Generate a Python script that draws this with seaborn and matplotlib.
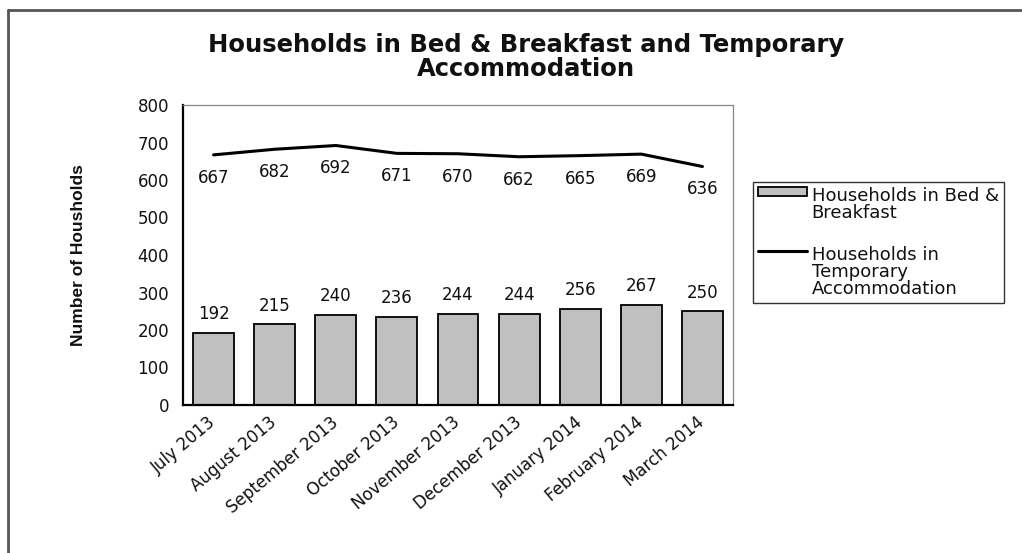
import numpy as np
import pandas as pd
import matplotlib
matplotlib.use("Agg")
import matplotlib.pyplot as plt
from matplotlib.lines import Line2D
from matplotlib.patches import Patch
import seaborn as sns

months = ["July 2013", "August 2013", "September 2013", "October 2013",
          "November 2013", "December 2013", "January 2014", "February 2014",
          "March 2014"]
bed_breakfast = [192, 215, 240, 236, 244, 244, 256, 267, 250]
temporary = [667, 682, 692, 671, 670, 662, 665, 669, 636]
yticks = [0, 100, 200, 300, 400, 500, 600, 700, 800]

sns.set_style("white")
plt.rcParams['font.family'] = ['DejaVu Sans']
plt.rcParams['text.color'] = '#111111'

df = pd.DataFrame({"month": months, "bb": bed_breakfast, "ta": temporary,
                   "pos": np.arange(len(months))})

fig = plt.figure(figsize=(10.22, 5.53), dpi=100)
ax = fig.add_axes([183 / 1022, 148 / 553, 550 / 1022, 300 / 553])

sns.barplot(data=df, x="month", y="bb", color="#c0c0c0", edgecolor="black",
            linewidth=1.3, width=0.67, saturation=1, ax=ax)
sns.lineplot(data=df, x="pos", y="ta", color="black", linewidth=2.2, ax=ax)

# data labels
for i, v in enumerate(bed_breakfast):
    ax.annotate(str(v), (i, v), xytext=(0, 7), textcoords="offset points",
                ha="center", va="bottom", fontsize=12, color="#111111")
for i, v in enumerate(temporary):
    ax.annotate(str(v), (i, v), xytext=(0, -10), textcoords="offset points",
                ha="center", va="top", fontsize=12, color="#111111")

ax.set_xlim(-0.5, len(months) - 0.5)
ax.set_ylim(0, 800)
ax.set_yticks(yticks)
ax.set_yticklabels([str(t) for t in yticks], fontsize=12, color="#111111")

ax.set_xticks(np.arange(len(months)))
ax.set_xticklabels(months, rotation=40, ha="right", va="center",
                   rotation_mode="anchor", fontsize=12, color="#111111")
ax.tick_params(axis="x", length=0, pad=11)
# boundary ticks between categories
ax.set_xticks(np.arange(-0.5, len(months) + 0.5, 1), minor=True)
ax.tick_params(axis="x", which="minor", direction="inout", length=10,
               width=1.3, color="black")
ax.tick_params(axis="y", direction="inout", length=10, width=1.3,
               color="black", pad=5)

ax.set_xlabel("")
ax.set_ylabel("Number of Housholds", fontsize=12.5, fontweight="bold",
              family=['Liberation Sans Narrow', 'Liberation Sans'],
              labelpad=37, color="#111111")

for side in ["left", "bottom"]:
    ax.spines[side].set_color("black")
    ax.spines[side].set_linewidth(1.6)
for side in ["top", "right"]:
    ax.spines[side].set_color("#888888")
    ax.spines[side].set_linewidth(0.9)

fig.text(526 / 1022, 1 - 57 / 553,
         "Households in Bed & Breakfast and Temporary\nAccommodation",
         ha="center", va="center", fontsize=17.5, fontweight="bold",
         linespacing=0.95, color="#111111")

handles = [Patch(facecolor="#c0c0c0", edgecolor="black", linewidth=1.3),
           Line2D([0], [0], color="black", linewidth=2.2)]
labels = ["Households in Bed &\nBreakfast",
          "Households in\nTemporary\nAccommodation"]
leg = fig.legend(handles, labels, loc="upper left",
                 bbox_to_anchor=(753 / 1022, 1 - 182 / 553), fontsize=13,
                 frameon=True, fancybox=False, handlelength=2.7,
                 handleheight=0.35, handletextpad=0.25, labelspacing=1.3,
                 borderpad=0.3, borderaxespad=0)
leg.get_frame().set_edgecolor("black")
leg.get_frame().set_linewidth(1.0)
for t in leg.get_texts():
    t.set_linespacing(0.92)
    t.set_color("#111111")
# put each handle level with the first line of its label
for col in leg._legend_handle_box.get_children():
    for row in col.get_children():
        row.align = "top"

# outer chart border (top and left visible)
fig.add_artist(Line2D([8 / 1022, 8 / 1022], [0, 1 - 10 / 553],
                      transform=fig.transFigure, color="#555555", linewidth=2))
fig.add_artist(Line2D([8 / 1022, 1], [1 - 10 / 553, 1 - 10 / 553],
                      transform=fig.transFigure, color="#555555", linewidth=2))

fig.savefig("out.png", dpi=100)
